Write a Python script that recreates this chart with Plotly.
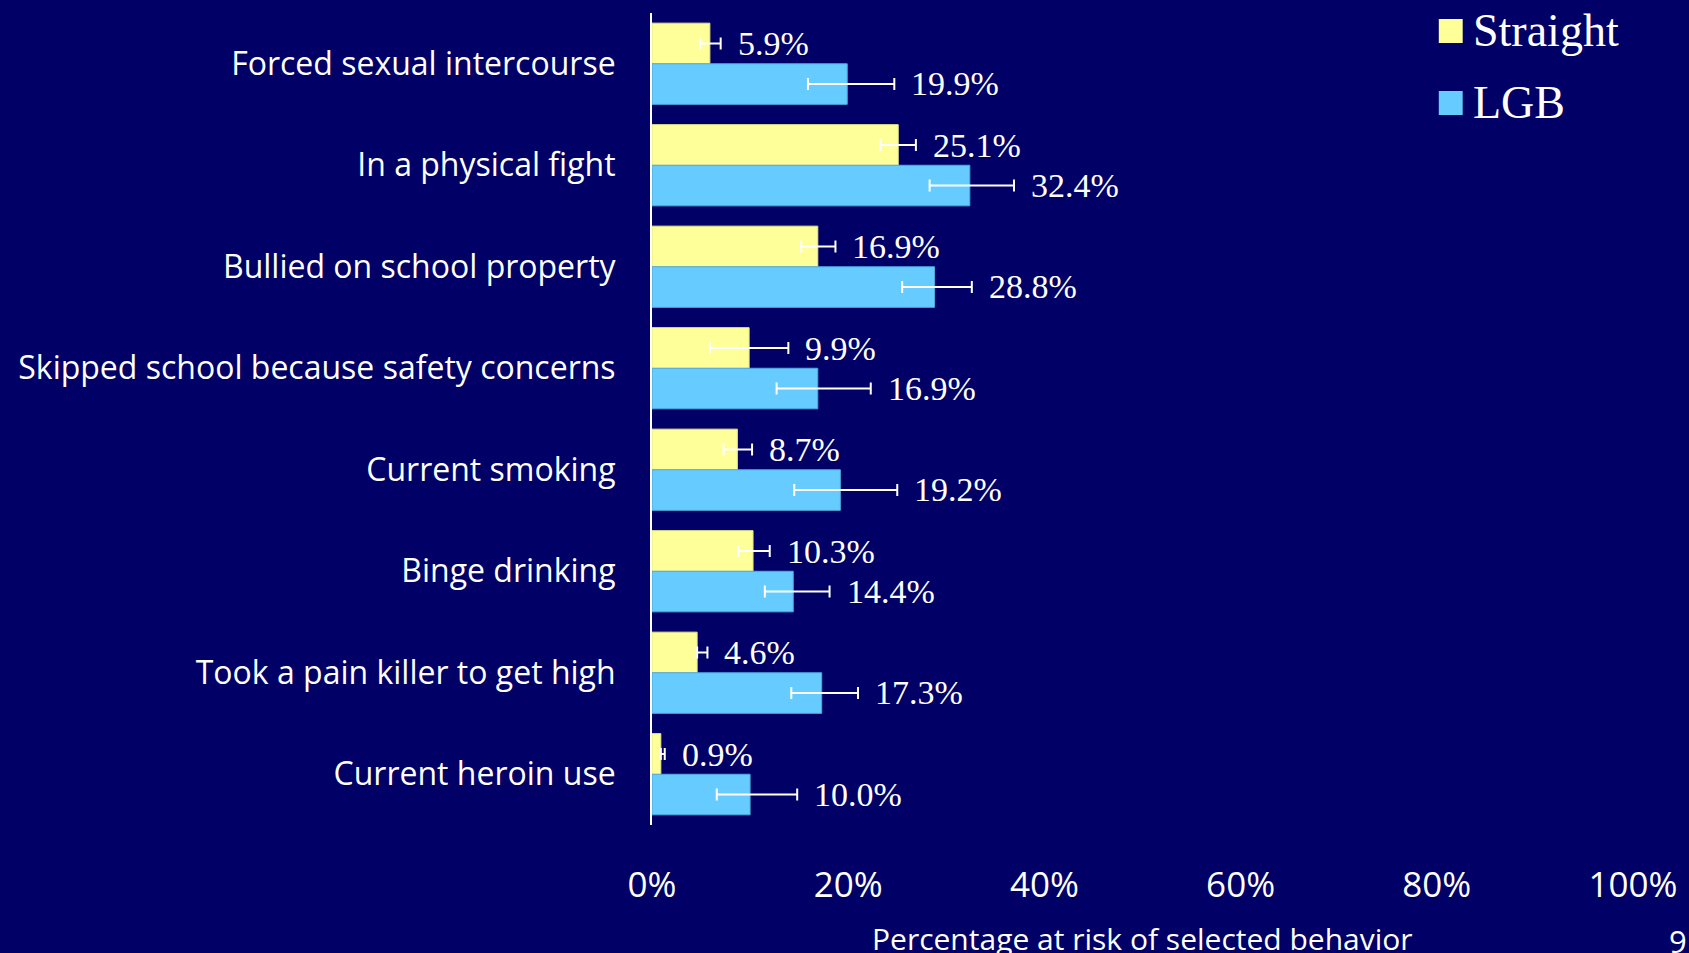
import plotly.graph_objects as go

categories = [
    "Forced sexual intercourse",
    "In a physical fight",
    "Bullied on school property",
    "Skipped school because safety concerns",
    "Current smoking",
    "Binge drinking",
    "Took a pain killer to get high",
    "Current heroin use",
]
straight_values = [5.9, 25.1, 16.9, 9.9, 8.7, 10.3, 4.6, 0.9]
straight_low = [4.9, 23.3, 15.2, 5.9, 7.3, 8.8, 4.6, 0.9]
straight_high = [7.0, 26.9, 18.7, 13.9, 10.2, 12.0, 5.65, 1.3]
lgb_values = [19.9, 32.4, 28.8, 16.9, 19.2, 14.4, 17.3, 10.0]
lgb_low = [15.9, 28.3, 25.5, 12.7, 14.5, 11.5, 14.2, 6.6]
lgb_high = [24.7, 36.9, 32.6, 22.3, 25.0, 18.1, 21.0, 14.8]
x_ticks = [0, 20, 40, 60, 80, 100]
x_tick_labels = ["0%", "20%", "40%", "60%", "80%", "100%"]
series_names = ["Straight", "LGB"]
axis_title = "Percentage at risk of selected behavior"
slide_number = "9"

BG = "#000066"
YELLOW = "#FFFF99"
BLUE = "#66CCFF"
SANS = "Open Sans, Lato, sans-serif"
SERIF = "Liberation Serif, Times New Roman, serif"

W, H = 1689, 953
ML, MR, MT, MB = 652, 52, 13, 128

fig = go.Figure()

series = [
    (series_names[0], straight_values, straight_low, straight_high, YELLOW, "#E6E68A"),
    (series_names[1], lgb_values, lgb_low, lgb_high, BLUE, "#4FA8DC"),
]
for name, vals, lo, hi, col, edge in series:
    fig.add_trace(go.Bar(
        name=name,
        y=categories,
        x=vals,
        orientation="h",
        marker=dict(color=col, line=dict(color=edge, width=1)),
        error_x=dict(
            type="data",
            symmetric=False,
            array=[h - v for h, v in zip(hi, vals)],
            arrayminus=[v - l for v, l in zip(vals, lo)],
            color="white",
            thickness=2,
            width=6,
        ),
        showlegend=False,
        hoverinfo="skip",
    ))

# value labels after the error bars
for k, (name, vals, lo, hi, col, edge) in enumerate(series):
    for cat, v, h in zip(categories, vals, hi):
        fig.add_annotation(
            x=h, y=cat, xref="x", yref="y",
            text=f"{v:.1f}%",
            showarrow=False,
            xanchor="left", yanchor="middle",
            xshift=15,
            yshift=20 if k == 0 else -20,
            font=dict(family=SERIF, size=34, color="white"),
        )

# legend (drawn manually so the swatches are large like the original)
def px_x(p):
    return (p - ML) / (W - ML - MR)

def px_y(p):
    return (H - MB - p) / (H - MT - MB)

legend_rows = [(series_names[0], YELLOW, 31), (series_names[1], BLUE, 103)]
for name, col, cy in legend_rows:
    fig.add_shape(
        type="rect", xref="paper", yref="paper",
        x0=px_x(1442), x1=px_x(1466), y0=px_y(cy + 12), y1=px_y(cy - 12),
        fillcolor=col, line=dict(width=0),
    )
    fig.add_annotation(
        x=px_x(1474), y=px_y(cy - 1), xref="paper", yref="paper",
        text=name, showarrow=False, xanchor="left", yanchor="middle",
        font=dict(family=SERIF, size=46, color="white"),
    )

# axis title
fig.add_annotation(
    x=0.5, y=0, xref="paper", yref="paper",
    text=axis_title, showarrow=False, xanchor="center", yanchor="middle",
    yshift=-113,
    font=dict(family=SANS, size=30, color="white"),
)
# slide number
fig.add_annotation(
    x=1, y=0, xref="paper", yref="paper",
    text=slide_number, showarrow=False, xanchor="left", yanchor="middle",
    xshift=34, yshift=-116,
    font=dict(family=SANS, size=31, color="white"),
)

fig.update_layout(
    width=W, height=H,
    paper_bgcolor=BG, plot_bgcolor=BG,
    margin=dict(l=ML, r=MR, t=MT, b=MB, pad=0),
    barmode="group",
    bargap=0.2,
    bargroupgap=0,
    showlegend=False,
    xaxis=dict(
        range=[0, 100],
        tickvals=x_ticks,
        ticktext=x_tick_labels,
        showgrid=False, zeroline=False, showline=False,
        ticks="",
        ticklabelstandoff=36,
        tickfont=dict(family=SANS, size=35, color="white"),
        fixedrange=True,
    ),
    yaxis=dict(
        autorange="reversed",
        showgrid=False, zeroline=False,
        showline=True, linecolor="white", linewidth=2,
        ticks="",
        ticklabelstandoff=28,
        tickfont=dict(family=SANS, size=32, color="white"),
        fixedrange=True,
    ),
)

fig.write_html("out.html", config={"displayModeBar": False})

# remove the default page margin so the figure fills the window exactly
with open("out.html", "r", encoding="utf-8") as f:
    html = f.read()
html = html.replace(
    "<head>",
    "<head><style>html,body{margin:0;padding:0;overflow:hidden;background:#000066;}</style>",
    1,
)
with open("out.html", "w", encoding="utf-8") as f:
    f.write(html)
